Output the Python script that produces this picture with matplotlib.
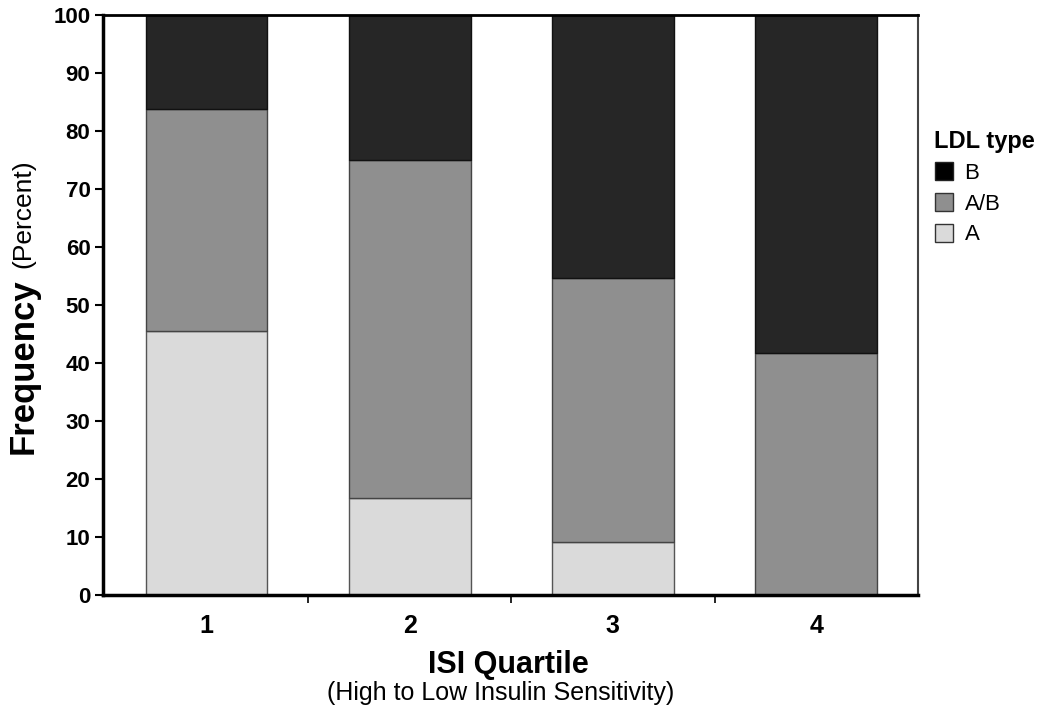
import numpy as np
import matplotlib
matplotlib.use("Agg")
import matplotlib.pyplot as plt
from matplotlib.patches import Patch

plt.rcParams['font.family'] = ['Liberation Sans', 'DejaVu Sans']

quartiles = [1, 2, 3, 4]
type_a = [45.5, 16.7, 9.1, 0.0]
type_ab = [38.2, 58.3, 45.5, 41.7]
type_b = [16.3, 25.0, 45.4, 58.3]

c_a = '#dadada'
c_ab = '#8f8f8f'
c_b = '#262626'

fig = plt.figure(figsize=(10.5, 7.09), dpi=100)
ax = fig.add_axes([0.098, 0.161, 0.776, 0.818])

x = np.array(quartiles)
w = 0.6
a = np.array(type_a)
ab = np.array(type_ab)
b = np.array(type_b)
ax.bar(x, a, w, color=c_a, edgecolor='#555555', lw=1, zorder=2)
ax.bar(x, ab, w, bottom=a, color=c_ab, edgecolor='#444444', lw=1, zorder=2)
ax.bar(x, b, w, bottom=a + ab, color=c_b, edgecolor='#111111', lw=1, zorder=2)

ax.set_xlim(0.49, 4.5)
ax.set_ylim(0, 100)
ax.set_yticks(np.arange(0, 101, 10))
ax.tick_params(axis='y', labelsize=16, width=1.5, length=6, direction='out', pad=3)
for t in ax.get_yticklabels():
    t.set_fontweight('bold')

ax.set_xticks(x)
ax.set_xticklabels([str(q) for q in quartiles], fontsize=18, fontweight='bold')
ax.tick_params(axis='x', length=0, pad=14)
ax.set_xticks([1.5, 2.5, 3.5], minor=True)
ax.tick_params(axis='x', which='minor', length=6, width=1.2, direction='out')

for s in ['left', 'bottom']:
    ax.spines[s].set_linewidth(2.5)
ax.spines['top'].set_linewidth(2)
ax.spines['right'].set_linewidth(1.5)
ax.spines['right'].set_color('#444444')

# y label: bold word plus smaller note
fig.text(0.022, 0.484, 'Frequency', rotation=90, fontsize=25, fontweight='bold',
         ha='center', va='center')
fig.text(0.022, 0.698, '(Percent)', rotation=90, fontsize=19,
         ha='center', va='center')

fig.text(0.484, 0.062, 'ISI Quartile', fontsize=22, fontweight='bold',
         ha='center', va='center')
fig.text(0.477, 0.023, '(High to Low Insulin Sensitivity)', fontsize=18,
         ha='center', va='center')

handles = [Patch(facecolor='black', edgecolor='#222222', label='B'),
           Patch(facecolor=c_ab, edgecolor='#333333', label='A/B'),
           Patch(facecolor=c_a, edgecolor='#333333', label='A')]
leg = fig.legend(handles=handles, title='LDL type', loc='upper left',
                 bbox_to_anchor=(0.890, 0.817), frameon=False, fontsize=16,
                 title_fontproperties={'weight': 'bold', 'size': 17},
                 handlelength=0.85, handleheight=0.85, handletextpad=0.5,
                 labelspacing=0.42, borderpad=0.0, borderaxespad=0.0,
                 alignment='left')

fig.savefig('out.png', dpi=100)
